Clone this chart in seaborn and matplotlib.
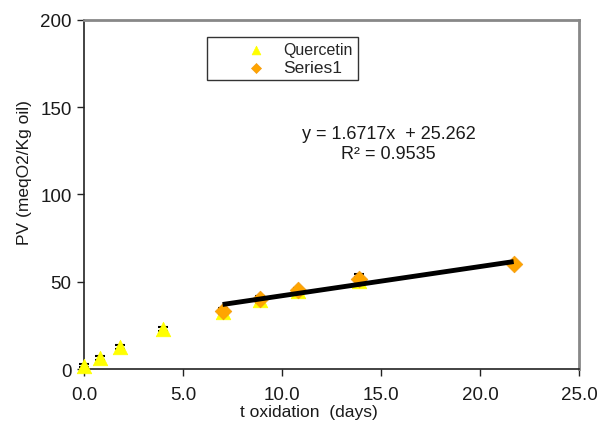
import matplotlib
matplotlib.use("Agg")
import matplotlib.pyplot as plt
import seaborn as sns
import numpy as np
import pandas as pd

# Peroxide value over oxidation time
quercetin_days = [0.0, 0.8, 1.8, 4.0, 7.0, 8.9, 10.8, 13.9]
quercetin_pv = [2.0, 6.3, 12.6, 23.0, 32.5, 39.5, 44.5, 50.5]
quercetin_err = [0.8, 1.2, 1.2, 1.0, 1.2, 1.5, 1.2, 2.0]

series1_days = [7.0, 8.9, 10.8, 13.9, 21.7]
series1_pv = [33.5, 40.0, 45.0, 51.5, 60.0]
series1_err = [1.2, 2.0, 1.2, 3.0, 0.8]

# Linear trend fitted to Series1
slope = 1.6717
intercept = 25.262
r_squared = 0.9535

x_ticks = [0, 5, 10, 15, 20, 25]
y_ticks = [0, 50, 100, 150, 200]

sns.set_theme(style="white")
plt.rcParams["font.family"] = ["Liberation Sans", "DejaVu Sans"]

fig = plt.figure(figsize=(6.0, 4.31), dpi=100)
ax = fig.add_axes([0.14, 0.1415, 0.825, 0.81])

q = pd.DataFrame({"days": quercetin_days, "pv": quercetin_pv, "series": "Quercetin"})
s = pd.DataFrame({"days": series1_days, "pv": series1_pv, "series": "Series1"})

for xd, yd, ed in [(quercetin_days, quercetin_pv, quercetin_err),
                   (series1_days, series1_pv, series1_err)]:
    ax.errorbar(xd, yd, yerr=ed, fmt="none", ecolor="black", elinewidth=0.8,
                capsize=3.5, capthick=1.5, zorder=2, clip_on=False)

sns.scatterplot(data=q, x="days", y="pv", marker="^", s=110, color="#FFFF00",
                edgecolor="#FFFF00", linewidth=0.5, ax=ax, label="Quercetin",
                zorder=3, clip_on=False)
sns.scatterplot(data=s, x="days", y="pv", marker="D", s=72, color="#FFA500",
                edgecolor="#F39C12", linewidth=0.5, ax=ax, label="Series1",
                zorder=4, clip_on=False)

xs = np.array([min(series1_days), max(series1_days)])
ax.plot(xs, slope * xs + intercept, color="black", linewidth=3.5, zorder=5,
        solid_capstyle="butt")

ax.text(0.615, 0.645, f"y = {slope}x  + {intercept}\nR² = {r_squared}",
        transform=ax.transAxes, ha="center", va="center", fontsize=13,
        color="#1a1a1a", linespacing=1.25)

ax.set_xlim(0, 25)
ax.set_ylim(0, 200)
ax.set_xticks(x_ticks)
ax.set_xticklabels([f"{t:.1f}" for t in x_ticks])
ax.set_yticks(y_ticks)
ax.set_yticklabels([str(t) for t in y_ticks])
ax.tick_params(axis="both", which="major", direction="out", length=5, width=1,
               color="#222222", labelsize=13.5, labelcolor="#1a1a1a")
ax.tick_params(axis="x", bottom=True, pad=7)
ax.tick_params(axis="y", left=True, pad=4)

for side in ["left", "bottom"]:
    ax.spines[side].set_color("#222222")
    ax.spines[side].set_linewidth(1.2)
for side in ["top", "right"]:
    ax.spines[side].set_color("#888888")
    ax.spines[side].set_linewidth(2)

ax.set_xlabel("t oxidation  (days)", fontsize=12.5, color="#1a1a1a", labelpad=2)
ax.xaxis.set_label_coords(0.455, -0.1, transform=ax.transAxes)
ax.set_ylabel("PV (meqO2/Kg oil)", fontsize=12.5, color="#1a1a1a")
ax.yaxis.set_label_coords(-0.105, 0.565, transform=ax.transAxes)

leg = ax.legend(loc="upper left", bbox_to_anchor=(0.248, 0.95), borderaxespad=0,
                frameon=True, fancybox=False, edgecolor="black", fontsize=11.5,
                handletextpad=-1.1, borderpad=0.3, labelspacing=0.2,
                handlelength=5.6, markerscale=0.6)
leg.get_frame().set_linewidth(1.0)
leg.get_texts()[1].set_fontsize(12.5)

fig.savefig("out.png", dpi=100)
